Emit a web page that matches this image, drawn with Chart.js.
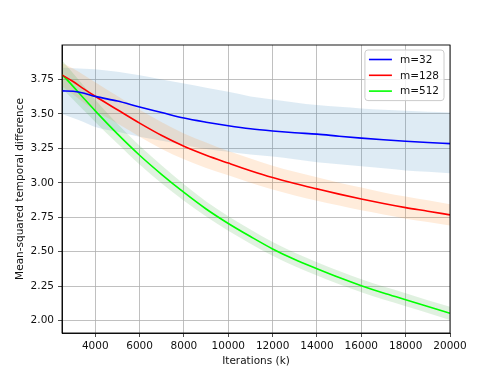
<!DOCTYPE html>
<html>
<head>
<meta charset="utf-8">
<script src="https://cdn.jsdelivr.net/npm/chart.js@4/dist/chart.umd.min.js"></script>
<style>
  html, body { margin: 0; padding: 0; background: #fff; }
</style>
</head>
<body>
<canvas id="chart" width="500" height="375"></canvas>
<script>
// iterations (k) sampled along the x axis
var iterations = [2500, 3000, 3500, 4000, 5000, 6000, 7000, 8000, 9000, 10000,
                  11000, 12000, 13000, 14000, 15000, 16000, 17000, 18000, 19000, 20000];

// mean curves
var m32  = [3.667, 3.664, 3.650, 3.627, 3.593, 3.550, 3.510, 3.470, 3.440, 3.414,
            3.392, 3.376, 3.363, 3.353, 3.338, 3.324, 3.312, 3.301, 3.292, 3.284];
var m128 = [3.783, 3.735, 3.680, 3.628, 3.530, 3.433, 3.343, 3.265, 3.200, 3.143,
            3.088, 3.038, 2.995, 2.956, 2.918, 2.883, 2.850, 2.820, 2.794, 2.767];
var m512 = [3.786, 3.700, 3.610, 3.522, 3.355, 3.200, 3.060, 2.930, 2.810, 2.705,
            2.610, 2.520, 2.443, 2.376, 2.312, 2.253, 2.200, 2.152, 2.102, 2.053];

// shaded bands (low / high)
var m32Low   = [3.500, 3.470, 3.440, 3.405, 3.370, 3.335, 3.305, 3.275, 3.245, 3.225,
                3.205, 3.190, 3.170, 3.150, 3.135, 3.120, 3.105, 3.090, 3.080, 3.070];
var m32High  = [3.834, 3.832, 3.828, 3.824, 3.805, 3.780, 3.750, 3.720, 3.690, 3.660,
                3.627, 3.605, 3.583, 3.564, 3.552, 3.540, 3.530, 3.522, 3.515, 3.510];
var m128Low  = [3.700, 3.640, 3.580, 3.525, 3.430, 3.335, 3.245, 3.170, 3.108, 3.055,
                3.000, 2.952, 2.908, 2.870, 2.835, 2.800, 2.770, 2.740, 2.715, 2.690];
var m128High = [3.870, 3.830, 3.780, 3.730, 3.630, 3.530, 3.440, 3.358, 3.292, 3.230,
                3.176, 3.124, 3.080, 3.040, 3.000, 2.965, 2.930, 2.900, 2.873, 2.845];
var m512Low  = [3.680, 3.605, 3.522, 3.442, 3.285, 3.132, 2.995, 2.870, 2.755, 2.652,
                2.558, 2.470, 2.394, 2.328, 2.264, 2.206, 2.153, 2.105, 2.056, 2.005];
var m512High = [3.890, 3.795, 3.700, 3.602, 3.428, 3.268, 3.125, 2.990, 2.865, 2.758,
                2.662, 2.570, 2.492, 2.424, 2.360, 2.300, 2.247, 2.199, 2.148, 2.101];

var xTicks = [4000, 6000, 8000, 10000, 12000, 14000, 16000, 18000, 20000];
var yTicks = [2.00, 2.25, 2.50, 2.75, 3.00, 3.25, 3.50, 3.75];

var FONT = 'DejaVu Sans';

function pts(vals) {
  return vals.map(function (v, i) { return {x: iterations[i], y: v}; });
}

function line(label, vals, color) {
  return {
    label: label, data: pts(vals), borderColor: color, borderWidth: 1.6,
    pointRadius: 0, fill: false, cubicInterpolationMode: 'monotone', order: 0
  };
}
function bandEdge(vals) {
  return {
    data: pts(vals), borderWidth: 0, pointRadius: 0, fill: false,
    cubicInterpolationMode: 'monotone', order: 1
  };
}
function bandTop(vals, target, color) {
  return {
    data: pts(vals), borderWidth: 0, pointRadius: 0, fill: target,
    backgroundColor: color, cubicInterpolationMode: 'monotone', order: 1
  };
}

// box around plot + legend in upper right
var frameAndLegend = {
  id: 'frameAndLegend',
  afterDraw: function (chart) {
    var ctx = chart.ctx, a = chart.chartArea;
    ctx.save();
    ctx.strokeStyle = '#000';
    ctx.lineWidth = 0.9;
    ctx.strokeRect(a.left, a.top, a.right - a.left, a.bottom - a.top);

    var items = chart.data.datasets.filter(function (d) { return d.label; });
    ctx.font = '10.5px "' + FONT + '"';
    var tw = Math.max.apply(null, items.map(function (d) { return ctx.measureText(d.label).width; }));
    var rowH = 15.8;
    var w = 4 + 23 + 8 + tw + 5;
    var h = 2 * 9.5 + (items.length - 1) * rowH;
    var x = a.right - 6 - w, y = a.top + 5;
    ctx.beginPath();
    ctx.roundRect(x, y, w, h, 3);
    ctx.fillStyle = 'rgba(255,255,255,0.8)';
    ctx.fill();
    ctx.strokeStyle = '#cccccc';
    ctx.lineWidth = 1;
    ctx.stroke();
    items.forEach(function (d, i) {
      var cy = y + 9.5 + i * rowH;
      ctx.beginPath();
      ctx.moveTo(x + 4, cy);
      ctx.lineTo(x + 27, cy);
      ctx.strokeStyle = d.borderColor;
      ctx.lineWidth = 1.6;
      ctx.stroke();
      ctx.fillStyle = '#111';
      ctx.textBaseline = 'middle';
      ctx.textAlign = 'left';
      ctx.fillText(d.label, x + 35, cy + 0.5);
    });
    ctx.restore();
  }
};

new Chart(document.getElementById('chart'), {
  type: 'line',
  data: {
    datasets: [
      line('m=32', m32, '#0000ff'),
      line('m=128', m128, '#ff0000'),
      line('m=512', m512, '#00ff00'),
      bandEdge(m512Low),
      bandTop(m512High, 3, 'rgba(44,160,44,0.15)'),
      bandEdge(m128Low),
      bandTop(m128High, 5, 'rgba(255,127,14,0.15)'),
      bandEdge(m32Low),
      bandTop(m32High, 7, 'rgba(31,119,180,0.15)')
    ]
  },
  options: {
    responsive: false,
    animation: false,
    devicePixelRatio: 1,
    layout: { padding: { top: 45, right: 50, left: 0, bottom: 0 } },
    plugins: { legend: { display: false }, tooltip: { enabled: false } },
    scales: {
      x: {
        type: 'linear', min: 2500, max: 20000,
        afterBuildTicks: function (s) { s.ticks = xTicks.map(function (v) { return {value: v}; }); },
        afterFit: function (s) { s.height = 42; },
        ticks: {
          color: '#111', font: { family: FONT, size: 10.5 }, padding: 3, maxRotation: 0,
          callback: function (v) { return String(v); }
        },
        grid: { color: '#b0b0b0', lineWidth: 0.8, tickColor: '#222', tickLength: 4 },
        border: { color: '#000', width: 0.9 },
        title: {
          display: true, text: 'Iterations (k)', color: '#111',
          font: { family: FONT, size: 10.5 }, padding: { top: 0, bottom: 7.5 }
        }
      },
      y: {
        type: 'linear', min: 1.91, max: 4.0,
        afterBuildTicks: function (s) { s.ticks = yTicks.map(function (v) { return {value: v}; }); },
        afterFit: function (s) { s.width = 62; },
        ticks: {
          color: '#111', font: { family: FONT, size: 10.5 }, padding: 4,
          callback: function (v) { return Number(v).toFixed(2); }
        },
        grid: { color: '#b0b0b0', lineWidth: 0.8, tickColor: '#222', tickLength: 4 },
        border: { color: '#000', width: 0.9 },
        title: {
          display: true, text: 'Mean-squared temporal difference', color: '#111',
          font: { family: FONT, size: 10.5 }, padding: { top: 14, bottom: 0 }
        }
      }
    }
  },
  plugins: [frameAndLegend]
});
</script>
</body>
</html>
